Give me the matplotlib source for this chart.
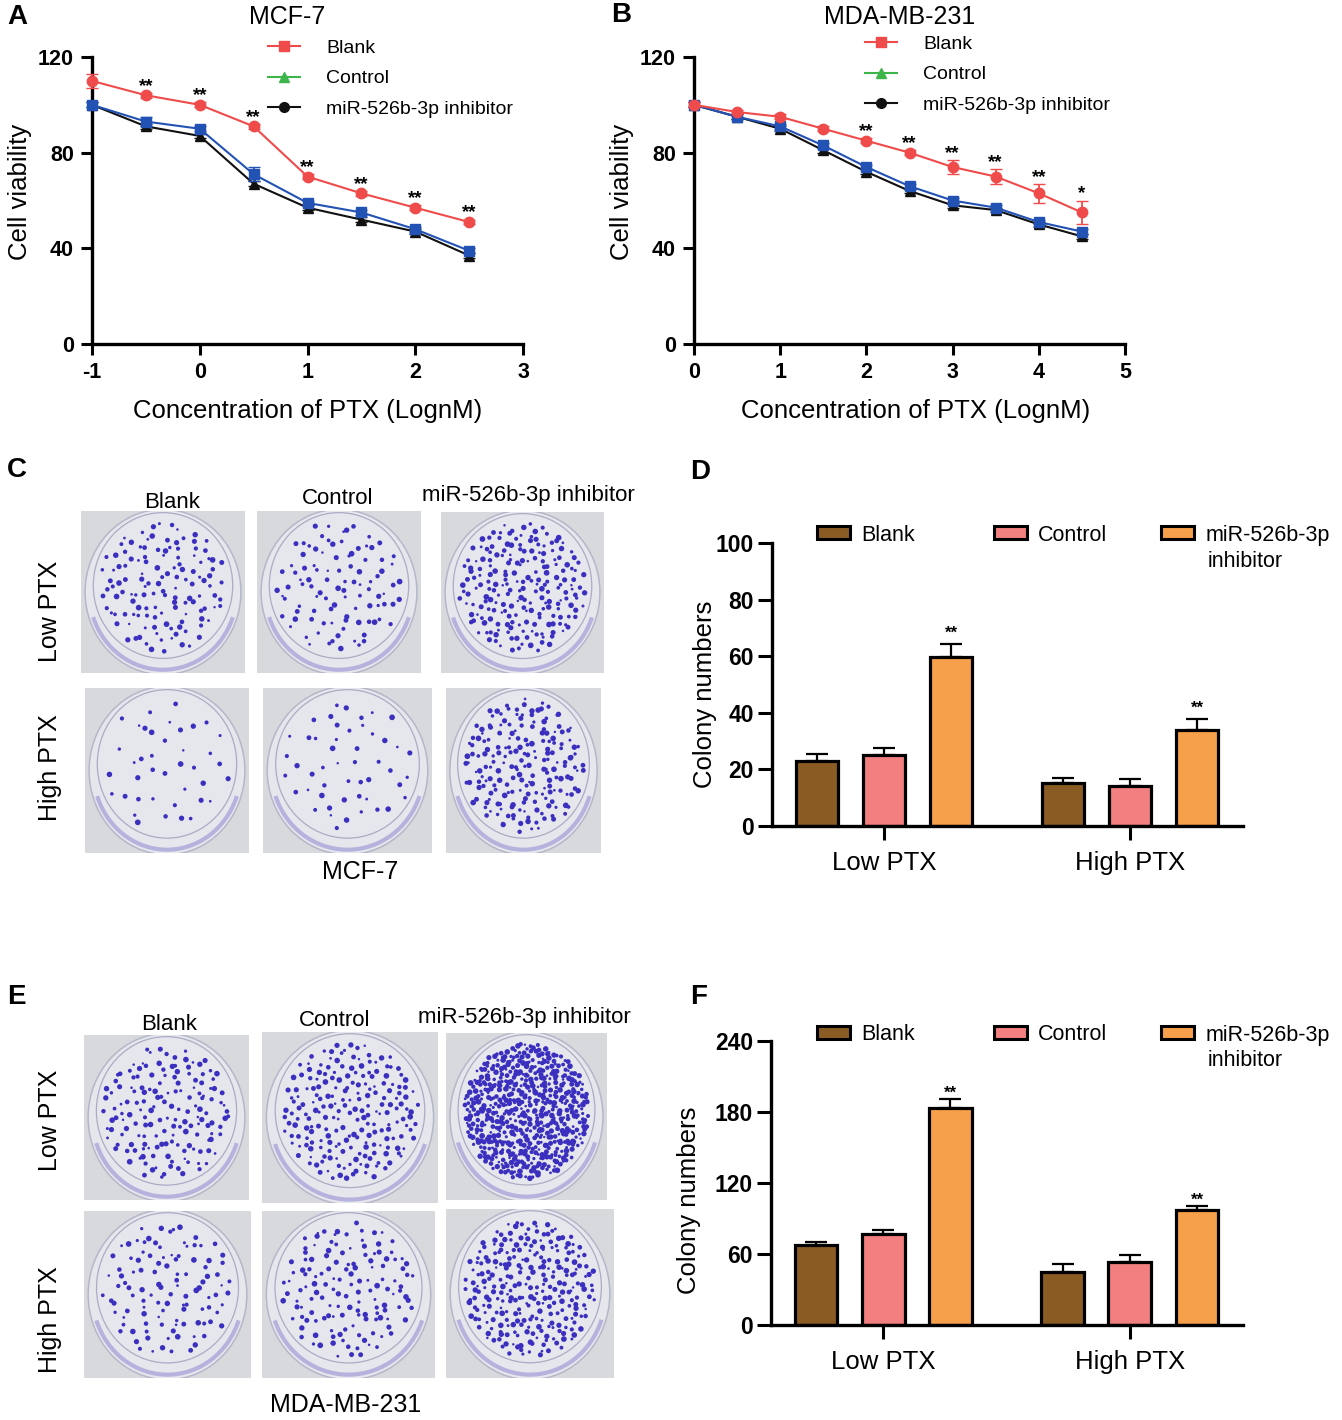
import numpy as np
import matplotlib
matplotlib.use('Agg')
import matplotlib.pyplot as plt
from matplotlib.lines import Line2D
from matplotlib.patches import Patch, Rectangle, Ellipse, Arc

plt.rcParams['font.family'] = ['Liberation Sans', 'DejaVu Sans']

# ---------------- data ----------------
groups = ['Blank', 'Control', 'miR-526b-3p inhibitor']

# A: MCF-7 viability
a_x = [-1, -0.5, 0, 0.5, 1, 1.5, 2, 2.5]
a_blank = [110, 104, 100, 91, 70, 63, 57, 51]
a_blank_err = [3, 1, 1, 1, 1, 1, 1, 1]
a_control = [100, 93, 90, 71, 59, 55, 48, 39]
a_control_err = [1, 2, 1, 3, 1, 1, 1, 1]
a_inhib = [100, 91, 87, 67, 57, 52, 47, 37]
a_inhib_err = [1, 1, 1, 1, 1, 1, 1, 1]
a_stars = ['', '**', '**', '**', '**', '**', '**', '**']

# B: MDA-MB-231 viability
b_x = [0, 0.5, 1, 1.5, 2, 2.5, 3, 3.5, 4, 4.5]
b_blank = [100, 97, 95, 90, 85, 80, 74, 70, 63, 55]
b_blank_err = [1, 1, 1, 1, 1, 1, 3, 3, 4, 5]
b_control = [100, 95, 91, 83, 74, 66, 60, 57, 51, 47]
b_control_err = [1, 1, 1, 1, 1, 1, 1, 1, 1, 1]
b_inhib = [100, 95, 90, 81, 72, 64, 58, 56, 50, 45]
b_inhib_err = [1, 1, 1, 1, 1, 1, 1, 1, 1, 1]
b_stars = ['', '', '', '', '**', '**', '**', '**', '**', '*']

# D: MCF-7 colonies  (rows: Low PTX, High PTX)
conditions = ['Low PTX', 'High PTX']
d_values = [[23.1, 25.2, 59.8], [15.3, 14.2, 33.8]]
d_errs = [[2.4, 2.3, 4.6], [1.7, 2.3, 4.1]]
d_stars = [['', '', '**'], ['', '', '**']]

# F: MDA-MB-231 colonies
f_values = [[67.5, 76.8, 183.5], [45.0, 52.9, 97.0]]
f_errs = [[2.8, 3.7, 7.3], [6.2, 6.1, 3.4]]
f_stars = [['', '', '**'], ['', '', '**']]

# approximate colony spots visible on each plate photo (rows: Low, High)
c_dots = [[130, 100, 210], [40, 50, 200]]
e_dots = [[160, 210, 600], [110, 140, 270]]

# ---------------- style ----------------
RED = '#EF4B4B'
BLUE = '#2352B5'
BLACK = '#111111'
GREEN = '#3DB54A'
BAR_COLORS = ['#8A5C24', '#F28080', '#F7A04C']
DOT = '#3b2fbf'

W, H = 1342, 1420
fig = plt.figure(figsize=(W / 100, H / 100), dpi=100)


def box(l, t, r, b):
    return [l / W, 1 - b / H, (r - l) / W, (b - t) / H]


def halton(i, b):
    f, r = 1.0, 0.0
    while i > 0:
        f /= b
        r += f * (i % b)
        i //= b
    return r


def line_panel(ax, x, blank, blank_err, ctrl, ctrl_err, inh, inh_err, stars,
               xlim, xticks, xlabel_x, ylabel_x):
    ax.errorbar(x, inh, yerr=inh_err, color=BLACK, marker='^', ms=7, lw=1.5,
                capsize=4, elinewidth=1.3, clip_on=False, zorder=3)
    ax.errorbar(x, ctrl, yerr=ctrl_err, color=BLUE, marker='s', ms=7, lw=1.5,
                capsize=4, elinewidth=1.3, clip_on=False, zorder=4)
    ax.errorbar(x, blank, yerr=blank_err, color=RED, marker='o', ms=7.5, lw=1.5,
                capsize=4, elinewidth=1.3, clip_on=False, zorder=5)
    for xi, v, e, s in zip(x, blank, blank_err, stars):
        if s:
            ax.annotate(s, (xi, v + e), xytext=(0, 1.5), textcoords='offset points',
                        ha='center', va='baseline', fontsize=13.5, fontweight='bold')
    ax.set_xlim(*xlim)
    ax.set_ylim(0, 120)
    ax.set_xticks(xticks)
    ax.set_xticklabels(['%g' % t for t in xticks])
    ax.set_yticks([0, 40, 80, 120])
    for side in ['top', 'right']:
        ax.spines[side].set_visible(False)
    for side in ['left', 'bottom']:
        ax.spines[side].set_linewidth(2.4)
    ax.tick_params(width=2.2, length=8, labelsize=15.5, pad=5)
    for lab in ax.get_xticklabels() + ax.get_yticklabels():
        lab.set_fontweight('bold')
    ax.set_ylabel('Cell viability', fontsize=18.5)
    ax.yaxis.set_label_coords(ylabel_x, 0.53)
    ax.set_xlabel('Concentration of PTX (LognM)', fontsize=18.5)
    ax.xaxis.set_label_coords(xlabel_x, -0.19)


def line_legend(x_px, y_px):
    handles = [Line2D([], [], color=RED, marker='s', ms=7, lw=1.5),
               Line2D([], [], color=GREEN, marker='^', ms=7, lw=1.5),
               Line2D([], [], color=BLACK, marker='o', ms=7, lw=1.5)]
    fig.legend(handles=handles, labels=['Blank', 'Control', 'miR-526b-3p inhibitor'],
               loc='upper left', bbox_to_anchor=(x_px / W, 1 - y_px / H),
               frameon=False, fontsize=14, handlelength=1.65, handletextpad=1.35,
               labelspacing=0.68, borderpad=0, borderaxespad=0)


def bar_panel(ax, values, errs, stars, ymax, yticks, star_off):
    offsets = [-0.2724, 0, 0.2724]
    for k in range(3):
        xs = [g + offsets[k] for g in range(len(conditions))]
        vals = [values[g][k] for g in range(len(conditions))]
        ers = [errs[g][k] for g in range(len(conditions))]
        ax.errorbar(xs, vals, yerr=[np.zeros(len(vals)), ers], fmt='none',
                    ecolor='black', elinewidth=1.6, capsize=8, capthick=1.6, zorder=1)
        ax.bar(xs, vals, width=0.173, color=BAR_COLORS[k], edgecolor='black',
               linewidth=2.3, zorder=2)
        for xi, v, e, g in zip(xs, vals, ers, range(len(conditions))):
            if stars[g][k]:
                ax.annotate(stars[g][k], (xi, v + e), xytext=(0, star_off),
                            textcoords='offset points', ha='center', va='baseline',
                            fontsize=12, fontweight='bold')
    ax.set_xlim(-0.455, 1.459)
    ax.set_ylim(0, ymax)
    ax.set_yticks(yticks)
    ax.set_xticks(range(len(conditions)))
    ax.set_xticklabels(conditions, fontsize=18.5)
    for side in ['top', 'right']:
        ax.spines[side].set_visible(False)
    for side in ['left', 'bottom']:
        ax.spines[side].set_linewidth(2.4)
    ax.tick_params(axis='y', width=2.2, length=10, labelsize=16.5, pad=3)
    ax.tick_params(axis='x', width=2.2, length=10, pad=8)
    for lab in ax.get_yticklabels():
        lab.set_fontweight('bold')
    ax.set_ylabel('Colony numbers', fontsize=18.5)


def bar_legend(y_px, y2_px):
    xs = [817, 994, 1161]
    labs = ['Blank', 'Control', 'miR-526b-3p']
    for x_px, lab, col in zip(xs, labs, BAR_COLORS):
        fig.legend(handles=[Patch(facecolor=col, edgecolor='black', linewidth=2.2)],
                   labels=[lab], loc='center left',
                   bbox_to_anchor=(x_px / W, 1 - y_px / H), frameon=False,
                   fontsize=15.5, handlelength=1.55, handleheight=0.55,
                   handletextpad=0.5, borderpad=0, borderaxespad=0)
    fig.text(1208 / W, 1 - y2_px / H, 'inhibitor', fontsize=15.5,
             ha='left', va='center')


def draw_plate(ax, n_dots, start):
    ax.set_xlim(0, 1)
    ax.set_ylim(0, 1)
    ax.axis('off')
    ax.add_patch(Rectangle((0, 0), 1, 1, color='#d8d9dd', zorder=0))
    ax.add_patch(Ellipse((0.5, 0.5), 0.95, 1.02, fc='#e6e7ec', ec='#b6b6ca', lw=1.1, zorder=1))
    ax.add_patch(Ellipse((0.5, 0.54), 0.85, 0.9, fc='none', ec='#ababc4', lw=0.9, zorder=2))
    ax.add_patch(Arc((0.5, 0.5), 0.9, 0.96, theta1=200, theta2=340,
                     color='#8e89d2', lw=3, alpha=0.55, zorder=2))
    xs, ys, ss = [], [], []
    for i in range(start, start + n_dots):
        u, v, w = halton(i, 2), halton(i, 3), halton(i, 5)
        r = 0.39 * np.sqrt(u)
        t = 2 * np.pi * v
        xs.append(0.5 + r * np.cos(t))
        ys.append(0.53 + 1.04 * r * np.sin(t))
        ss.append(3 + 14 * w)
    ax.scatter(xs, ys, s=ss, color=DOT, lw=0, zorder=3)


# ---------------- A ----------------
axA = fig.add_axes(box(92, 57, 523, 344))
line_panel(axA, a_x, a_blank, a_blank_err, a_control, a_control_err, a_inhib,
           a_inhib_err, a_stars, (-1, 3), [-1, 0, 1, 2, 3], 0.5, -0.14)
line_legend(268, 39)
fig.text(287 / W, 1 - 17 / H, 'MCF-7', fontsize=18, ha='center', va='center')

# ---------------- B ----------------
axB = fig.add_axes(box(694, 57, 1125, 344))
line_panel(axB, b_x, b_blank, b_blank_err, b_control, b_control_err, b_inhib,
           b_inhib_err, b_stars, (0, 5), [0, 1, 2, 3, 4, 5], 0.515, -0.14)
line_legend(865, 35)
fig.text(900 / W, 1 - 17 / H, 'MDA-MB-231', fontsize=18, ha='center', va='center')

# ---------------- C ----------------
c_boxes = [[(81, 511, 245, 673), (257, 511, 421, 673), (441, 512, 604, 673)],
           [(85, 688, 249, 853), (263, 688, 432, 853), (446, 688, 601, 853)]]
for r in range(2):
    for c in range(3):
        ax = fig.add_axes(box(*c_boxes[r][c]))
        draw_plate(ax, c_dots[r][c], 1 + 997 * (r * 3 + c))
for x_px, y_px, lab in [(172, 502, 'Blank'), (338, 498, 'Control'),
                        (528, 495, 'miR-526b-3p inhibitor')]:
    fig.text(x_px / W, 1 - y_px / H, lab, fontsize=16, ha='center', va='center')
fig.text(50 / W, 1 - 611 / H, 'Low PTX', fontsize=18, rotation=90, ha='center', va='center')
fig.text(50 / W, 1 - 768 / H, 'High PTX', fontsize=18, rotation=90, ha='center', va='center')
fig.text(360 / W, 1 - 872 / H, 'MCF-7', fontsize=18, ha='center', va='center')

# ---------------- D ----------------
axD = fig.add_axes(box(772, 543, 1243, 826))
bar_panel(axD, d_values, d_errs, d_stars, 100, [0, 20, 40, 60, 80, 100], 4)
axD.yaxis.set_label_coords(-0.117, 0.465)
bar_legend(535, 562)

# ---------------- E ----------------
e_boxes = [[(84, 1035, 249, 1200), (262, 1032, 438, 1203), (446, 1033, 607, 1200)],
           [(84, 1211, 251, 1378), (262, 1211, 435, 1378), (446, 1209, 614, 1378)]]
for r in range(2):
    for c in range(3):
        ax = fig.add_axes(box(*e_boxes[r][c]))
        draw_plate(ax, e_dots[r][c], 7001 + 1013 * (r * 3 + c))
for x_px, y_px, lab in [(169, 1024, 'Blank'), (335, 1021, 'Control'),
                        (524, 1018, 'miR-526b-3p inhibitor')]:
    fig.text(x_px / W, 1 - y_px / H, lab, fontsize=16, ha='center', va='center')
fig.text(50 / W, 1 - 1120 / H, 'Low PTX', fontsize=18, rotation=90, ha='center', va='center')
fig.text(50 / W, 1 - 1320 / H, 'High PTX', fontsize=18, rotation=90, ha='center', va='center')
fig.text(346 / W, 1 - 1405 / H, 'MDA-MB-231', fontsize=18, ha='center', va='center')

# ---------------- F ----------------
axF = fig.add_axes(box(771, 1041, 1243, 1325))
bar_panel(axF, f_values, f_errs, f_stars, 240, [0, 60, 120, 180, 240], 1)
axF.yaxis.set_label_coords(-0.148, 0.44)
bar_legend(1035, 1060)

# panel letters
for x_px, y_px, lab in [(7, 17, 'A'), (611, 15, 'B'), (7, 470, 'C'),
                        (690, 472, 'D'), (7, 997, 'E'), (690, 997, 'F')]:
    fig.text(x_px / W, 1 - y_px / H, lab, fontsize=20, fontweight='bold',
             ha='left', va='center')

fig.savefig('out.png', dpi=100, facecolor='white')
